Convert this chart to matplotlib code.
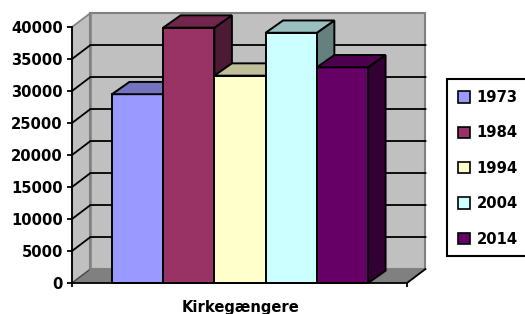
import matplotlib
matplotlib.use("Agg")
import matplotlib.pyplot as plt
from matplotlib.patches import Polygon, Patch, Rectangle
from matplotlib.colors import to_rgb

# ---- data ----
categories = ["Kirkegængere"]
years = ["1973", "1984", "1994", "2004", "2014"]
values = [29500, 39900, 32400, 39100, 33700]
colors = ["#9999FF", "#993366", "#FFFFCC", "#CCFFFF", "#660066"]
yticks = [0, 5000, 10000, 15000, 20000, 25000, 30000, 35000, 40000]

# ---- layout (pixels) ----
W, H = 525, 314
L, R, B, T = 72, 407, 283, 27
XMIN, XMAX = -0.78, 5.76
YMAX = 40000
FS = 10.6

plt.rcParams['font.family'] = ['DejaVu Sans']
fig = plt.figure(figsize=(W / 100, H / 100), dpi=100)
ax = fig.add_axes([L / W, (H - B) / H, (R - L) / W, (B - T) / H])
ax.set_xlim(XMIN, XMAX)
ax.set_ylim(0, YMAX)
ax.patch.set_visible(False)

ux = (XMAX - XMIN) / (R - L)   # data units per pixel (x)
uy = YMAX / (B - T)            # data units per pixel (y)

wdx, wdy = 18.5 * ux, 14 * uy     # wall depth
bdx, bdy = 17.5 * ux, 12.3 * uy   # bar depth


def shade(c, f):
    return tuple(v * f for v in to_rgb(c))


def poly(pts, fc, ec, lw, z):
    p = Polygon(pts, closed=True, facecolor=fc, edgecolor=ec, linewidth=lw,
                zorder=z, clip_on=False, joinstyle='miter')
    ax.add_patch(p)


# walls and floor
poly([(XMIN, 0), (XMIN + wdx, wdy), (XMIN + wdx, YMAX + wdy), (XMIN, YMAX)],
     "#C0C0C0", "#808080", 1.2, 0.5)
poly([(XMIN + wdx, wdy), (XMAX + wdx, wdy), (XMAX + wdx, YMAX + wdy), (XMIN + wdx, YMAX + wdy)],
     "#C0C0C0", "#808080", 1.5, 0.5)
poly([(XMIN, 0), (XMAX, 0), (XMAX + wdx, wdy), (XMIN + wdx, wdy)],
     "#808080", "none", 0, 0.6)
ax.plot([XMAX, XMAX + wdx], [0, wdy], color="black", lw=1.3, zorder=0.7, clip_on=False)
ax.plot([XMIN, XMIN + wdx], [0, wdy], color="#404040", lw=0.8, zorder=0.7, clip_on=False)
ax.plot([XMIN + wdx, XMIN + wdx], [wdy, YMAX + wdy], color="#808080", lw=1.8, zorder=0.7, clip_on=False)

for t in yticks[1:-1]:
    ax.plot([XMIN, XMIN + wdx, XMAX + wdx], [t, t + wdy, t + wdy],
            color="black", lw=1.3, zorder=0.8, clip_on=False, solid_joinstyle='miter')

# bars
for i, (v, c) in enumerate(zip(values, colors)):
    z = 2 + i * 0.1
    poly([(i + 1, 0), (i + 1 + bdx, bdy), (i + 1 + bdx, v + bdy), (i + 1, v)],
         shade(c, 0.5), "black", 1.4, z)
    poly([(i, 0), (i + 1, 0), (i + 1, v), (i, v)], c, "black", 1.4, z + 0.01)
    poly([(i, v), (i + 1, v), (i + 1 + bdx, v + bdy), (i + bdx, v + bdy)],
         shade(c, 0.75), "black", 1.4, z + 0.02)

# axes
for s in ["top", "right"]:
    ax.spines[s].set_visible(False)
ax.spines["left"].set_linewidth(1.3)
ax.spines["bottom"].set_linewidth(1.3)
ax.spines["left"].set_zorder(3)
ax.spines["bottom"].set_zorder(3)
ax.set_yticks(yticks)
ax.set_yticklabels([str(t) for t in yticks], fontsize=FS, fontweight="bold")
ax.tick_params(axis="y", length=3.6, width=1.3, pad=2.9)
ax.set_xticks([2.5])
ax.set_xticklabels(categories, fontsize=FS, fontweight="bold")
ax.tick_params(axis="x", which="major", length=0, pad=12)
ax.set_xticks([XMIN, XMAX], minor=True)
ax.tick_params(axis="x", which="minor", length=3, width=1.3)

# legend (frame drawn separately so it runs past the right edge as in the reference)
handles = [Patch(facecolor=c, edgecolor="black", linewidth=1.2) for c in colors]
leg = fig.legend(handles, years, loc="upper left",
                 bbox_to_anchor=(447 / W, 1 - 79 / H), bbox_transform=fig.transFigure,
                 frameon=False, borderaxespad=0, prop={"size": FS, "weight": "bold"},
                 handlelength=0.8, handleheight=0.8, handletextpad=0.45,
                 labelspacing=1.385, borderpad=0.75)
fig.patches.append(Rectangle((447 / W, (H - 256) / H), (540 - 447) / W, (256 - 79) / H,
                             transform=fig.transFigure, facecolor="white",
                             edgecolor="black", linewidth=1.5, zorder=0))

fig.savefig("out.png", dpi=100)
